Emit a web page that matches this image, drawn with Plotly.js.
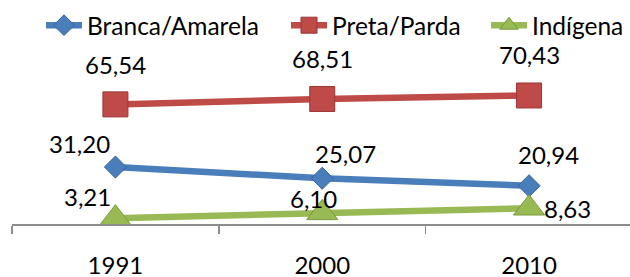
<!DOCTYPE html>
<html>
<head>
<meta charset="utf-8">
<script src="https://cdn.plot.ly/plotly-3.0.1.min.js"></script>
<style>html,body{margin:0;padding:0;background:#fff;}#chart{width:630px;height:277px;}</style>
</head>
<body>
<div id="chart"></div>
<script>
const categories = ['1991', '2000', '2010'];
const seriesNames = ['Branca/Amarela', 'Preta/Parda', 'Indígena'];
const branca = [31.20, 25.07, 20.94];
const preta = [65.54, 68.51, 70.43];
const indigena = [3.21, 6.10, 8.63];

const FONT = 'Lato, "Open Sans", sans-serif';
const fmt = v => v.toFixed(2).replace('.', ',');

const styles = [
  {color: '#4A7EBB', edge: '#3A6599', symbol: 'diamond', size: 17, legend: 'legend', legendX: 41,
   shifts: [[-36, 24], [23, 25], [19, 31]]},
  {color: '#BE4B48', edge: '#9C3533', symbol: 'square', size: 25, legend: 'legend2', legendX: 286,
   shifts: [[0, 40], [0, 40], [0, 41]]},
  {color: '#98B954', edge: '#7A9A3C', symbol: 'triangle-up', size: 27, legend: 'legend3', legendX: 486,
   shifts: [[-28, 22], [-9, 14], [38, 0]]}
];
const values = [branca, preta, indigena];

const traces = values.map((vals, s) => ({
  x: categories, y: vals, name: seriesNames[s], type: 'scatter', mode: 'lines+markers',
  legend: styles[s].legend,
  line: {color: styles[s].color, width: 6.5},
  marker: {symbol: styles[s].symbol, size: styles[s].size, color: styles[s].color,
           line: {color: styles[s].edge, width: 1}},
  cliponaxis: false, hoverinfo: 'skip'
}));

const annotations = [];
values.forEach((vals, s) => {
  vals.forEach((v, i) => {
    annotations.push({
      // category index of categories[i] on the category axis
      x: categories.indexOf(categories[i]), y: v, xref: 'x', yref: 'y', text: fmt(v), showarrow: false,
      xanchor: 'center', yanchor: 'middle',
      xshift: styles[s].shifts[i][0], yshift: styles[s].shifts[i][1],
      font: {family: FONT, size: 24, color: '#000'}
    });
  });
});

function legendBox(px) {
  return {orientation: 'h', xref: 'container', yref: 'container', x: px / 630, xanchor: 'left',
          y: 0.99, yanchor: 'top', font: {family: FONT, size: 24.5, color: '#000'},
          itemwidth: 36, bgcolor: 'rgba(0,0,0,0)', borderwidth: 0};
}

const layout = {
  width: 630, height: 277,
  margin: {l: 12, r: 0, t: 78, b: 53},
  paper_bgcolor: '#fff', plot_bgcolor: '#fff',
  font: {family: FONT, size: 24, color: '#000'},
  showlegend: true,
  legend: legendBox(styles[0].legendX),
  legend2: legendBox(styles[1].legendX),
  legend3: legendBox(styles[2].legendX),
  xaxis: {type: 'category', range: [-0.5, 2.488], showgrid: false, zeroline: false,
          showline: true, linecolor: '#8C8C8C', linewidth: 1.5,
          ticks: 'outside', tickson: 'boundaries', ticklen: 8, tickcolor: '#8C8C8C', tickwidth: 1.5,
          ticklabelstandoff: 20, tickfont: {family: FONT, size: 24, color: '#000'},
          fixedrange: true},
  yaxis: {range: [0, 80], showgrid: false, zeroline: false, showline: false,
          showticklabels: false, ticks: '', fixedrange: true},
  annotations: annotations
};

Plotly.newPlot('chart', traces, layout, {staticPlot: true, displayModeBar: false});
</script>
</body>
</html>
